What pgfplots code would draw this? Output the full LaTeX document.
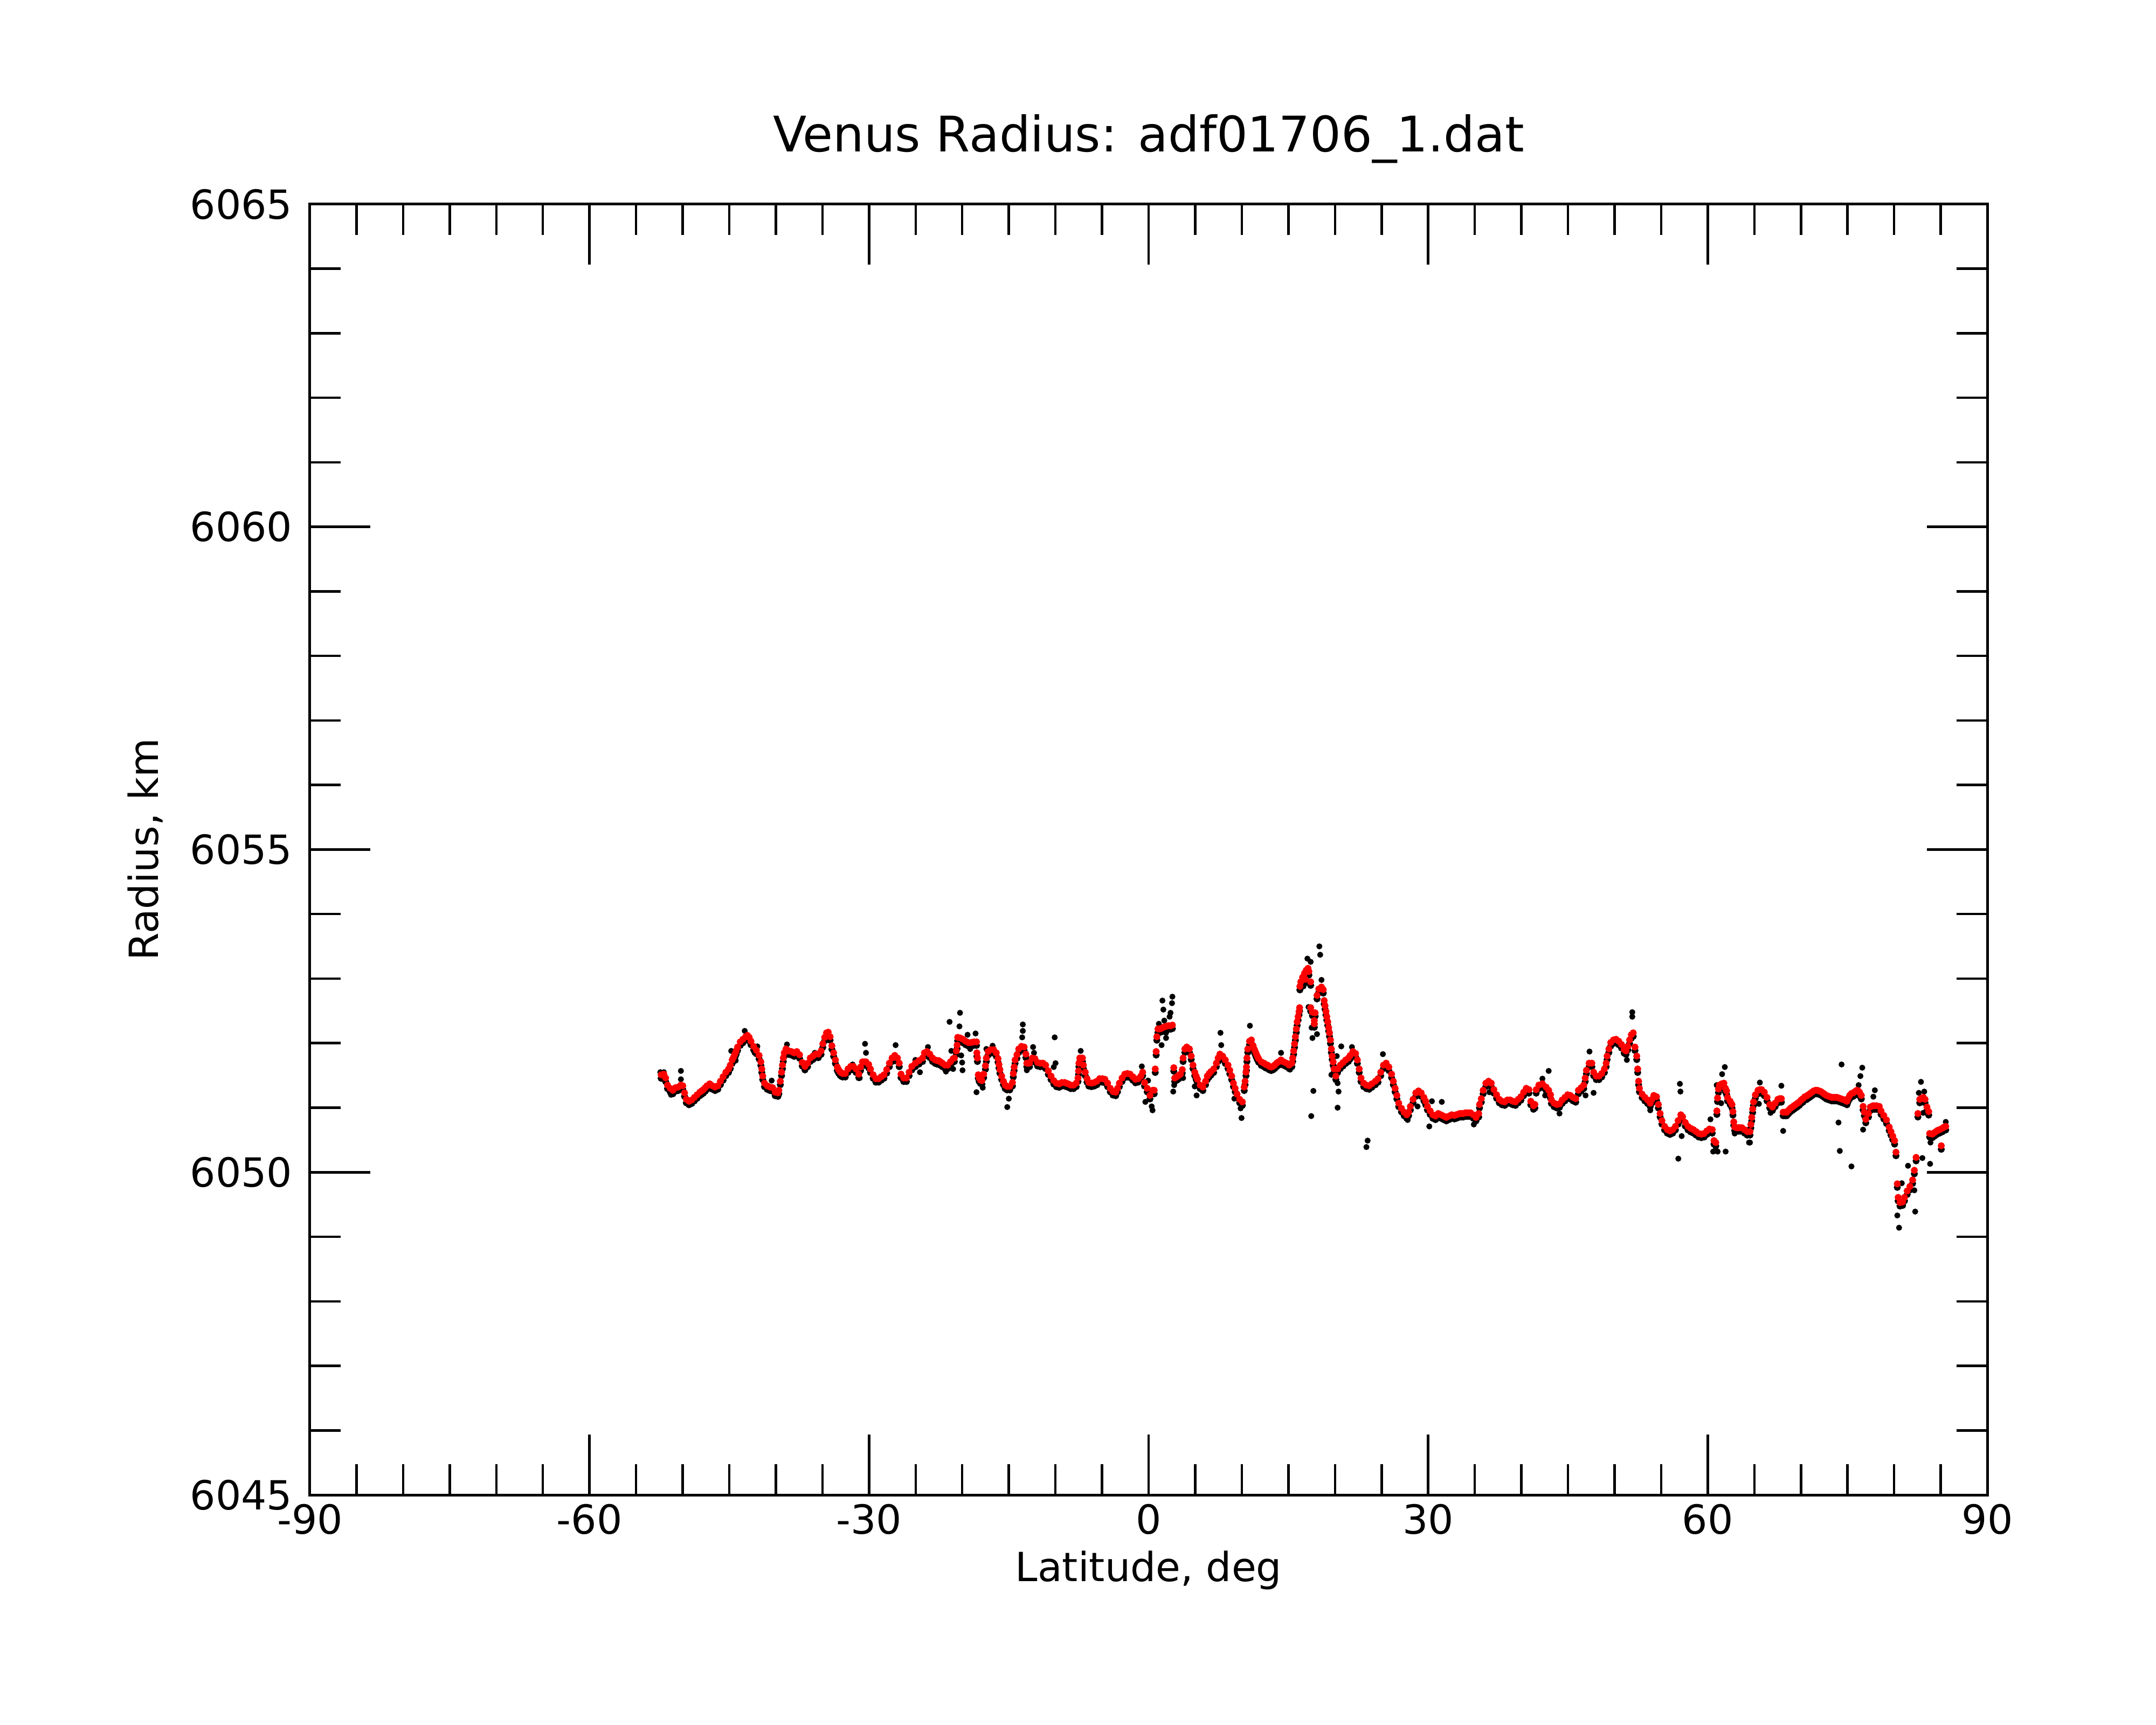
\documentclass[border=0pt]{standalone}
\usepackage{pgfplots}
\pgfplotsset{compat=1.18}
\usepackage{pgfplotstable}
\usepackage{fontspec}
\setmainfont{DejaVu Sans}

\pgfplotstableread{
lat r
-52.31 6051.51
-52.02 6051.52
-51.83 6051.46
-51.63 6051.35
-51.34 6051.30
-51.05 6051.27
-50.77 6051.31
-50.48 6051.32
-50.19 6051.35
-49.99 6051.34
-49.80 6051.23
-49.61 6051.13
-49.32 6051.10
-49.03 6051.12
-48.74 6051.16
-48.45 6051.20
-48.16 6051.24
-47.97 6051.26
-47.78 6051.28
-47.58 6051.31
-47.39 6051.34
-47.10 6051.37
-46.81 6051.34
-46.52 6051.32
-46.23 6051.34
-45.95 6051.41
-45.66 6051.48
-45.37 6051.55
-45.08 6051.60
-44.89 6051.66
-44.69 6051.74
-44.55 6051.78
-44.40 6051.83
-44.26 6051.88
-44.11 6051.94
-43.82 6052.02
-43.54 6052.06
-43.25 6052.10
-43.05 6052.12
-42.86 6052.09
-42.67 6052.03
-42.38 6051.95
-42.09 6051.89
-41.80 6051.81
-41.61 6051.71
-41.51 6051.60
-41.41 6051.49
-41.22 6051.38
-40.93 6051.34
-40.64 6051.32
-40.35 6051.31
-40.07 6051.24
-39.78 6051.23
-39.68 6051.27
-39.52 6051.41
-39.39 6051.55
-39.29 6051.66
-39.20 6051.77
-39.10 6051.85
-38.91 6051.91
-38.76 6051.89
-38.62 6051.88
-38.33 6051.87
-38.04 6051.85
-37.75 6051.87
-37.46 6051.82
-37.17 6051.70
-36.88 6051.64
-36.60 6051.69
-36.31 6051.77
-36.02 6051.80
-35.73 6051.83
-35.44 6051.83
-35.15 6051.88
-34.96 6051.99
-34.76 6052.09
-34.57 6052.16
-34.38 6052.17
-34.18 6052.10
-33.99 6051.96
-33.80 6051.85
-33.61 6051.74
-33.41 6051.63
-33.27 6051.59
-33.12 6051.56
-32.98 6051.54
-32.84 6051.53
-32.55 6051.53
-32.26 6051.60
-31.97 6051.64
-31.68 6051.64
-31.39 6051.60
-31.10 6051.52
-30.91 6051.63
-30.71 6051.71
-30.52 6051.71
-30.33 6051.71
-30.04 6051.67
-29.85 6051.60
-29.56 6051.51
-29.27 6051.45
-28.98 6051.45
-28.69 6051.48
-28.40 6051.51
-28.11 6051.59
-27.82 6051.69
-27.53 6051.77
-27.24 6051.81
-26.95 6051.77
-26.76 6051.69
-26.57 6051.52
-26.28 6051.46
-25.99 6051.46
-25.70 6051.55
-25.41 6051.64
-25.03 6051.69
-24.64 6051.73
-24.26 6051.77
-24.06 6051.85
-23.77 6051.87
-23.48 6051.83
-23.19 6051.77
-22.90 6051.74
-22.71 6051.73
-22.52 6051.73
-22.33 6051.71
-22.13 6051.69
-21.84 6051.66
-21.56 6051.66
-21.27 6051.71
-20.98 6051.76
-20.84 6051.77
-20.63 6051.88
-20.55 6051.97
-20.49 6052.09
-20.21 6052.08
-19.92 6052.06
-19.63 6052.03
-19.34 6052.01
-19.05 6052.01
-18.76 6052.02
-18.47 6052.02
-18.43 6051.85
-18.37 6051.77
-18.28 6051.51
-18.18 6051.46
-18.04 6051.43
-17.89 6051.42
-17.70 6051.52
-17.51 6051.65
-17.41 6051.77
-17.22 6051.87
-16.93 6051.90
-16.64 6051.90
-16.35 6051.85
-16.16 6051.76
-16.06 6051.67
-15.96 6051.59
-15.77 6051.49
-15.58 6051.41
-15.39 6051.35
-15.19 6051.33
-14.90 6051.33
-14.61 6051.39
-14.52 6051.53
-14.43 6051.63
-14.33 6051.74
-14.13 6051.82
-13.94 6051.91
-13.65 6051.95
-13.36 6051.94
-13.17 6051.83
-13.07 6051.69
-12.92 6051.69
-12.78 6051.69
-12.49 6051.77
-12.20 6051.76
-11.92 6051.70
-11.63 6051.69
-11.34 6051.69
-11.05 6051.66
-10.76 6051.57
-10.47 6051.49
-10.18 6051.42
-9.89 6051.38
-9.60 6051.37
-9.31 6051.39
-9.02 6051.39
-8.83 6051.38
-8.64 6051.37
-8.35 6051.35
-8.06 6051.35
-7.77 6051.38
-7.58 6051.46
-7.52 6051.57
-7.48 6051.69
-7.39 6051.77
-7.10 6051.77
-7.00 6051.66
-6.80 6051.55
-6.61 6051.45
-6.42 6051.39
-6.13 6051.38
-5.84 6051.39
-5.55 6051.41
-5.26 6051.45
-4.97 6051.45
-4.69 6051.44
-4.40 6051.38
-4.11 6051.30
-3.82 6051.25
-3.53 6051.24
-3.34 6051.30
-3.14 6051.38
-2.85 6051.46
-2.56 6051.52
-2.28 6051.53
-1.99 6051.52
-1.70 6051.48
-1.41 6051.44
-1.12 6051.45
-0.83 6051.49
-0.64 6051.55
-0.44 6051.39
-0.15 6051.30
0.14 6051.19
0.42 6051.27
0.60 6051.27
0.71 6051.60
0.81 6051.87
0.88 6052.10
1.00 6052.22
1.19 6052.22
1.39 6052.23
1.63 6052.25
1.87 6052.26
2.11 6052.27
2.35 6052.27
2.55 6052.28
2.70 6051.62
2.80 6051.46
3.03 6051.48
3.22 6051.50
3.41 6051.52
3.61 6051.59
3.70 6051.77
3.89 6051.91
4.09 6051.94
4.38 6051.91
4.57 6051.80
4.76 6051.66
4.95 6051.55
5.10 6051.49
5.24 6051.44
5.53 6051.35
5.82 6051.32
6.11 6051.41
6.30 6051.49
6.50 6051.53
6.69 6051.56
6.98 6051.60
7.27 6051.69
7.46 6051.77
7.65 6051.83
7.94 6051.80
8.23 6051.74
8.52 6051.66
8.71 6051.58
8.91 6051.49
9.10 6051.38
9.29 6051.30
9.49 6051.21
9.77 6051.13
10.06 6051.09
10.26 6051.32
10.35 6051.41
10.45 6051.55
10.50 6051.63
10.55 6051.77
10.64 6051.91
10.83 6052.03
11.03 6052.05
11.22 6051.96
11.37 6051.90
11.51 6051.85
11.66 6051.80
11.80 6051.76
12.09 6051.71
12.38 6051.69
12.57 6051.67
12.76 6051.66
12.96 6051.64
13.15 6051.63
13.34 6051.64
13.53 6051.66
13.73 6051.69
13.92 6051.71
14.21 6051.74
14.50 6051.71
14.79 6051.69
15.08 6051.66
15.37 6051.69
15.46 6051.77
15.56 6051.88
15.66 6051.99
15.75 6052.10
15.85 6052.22
15.94 6052.33
16.04 6052.41
16.14 6052.49
16.20 6052.55
16.23 6052.88
16.33 6052.95
16.52 6053.02
16.72 6053.08
16.81 6052.99
16.91 6053.13
17.10 6053.16
17.20 6053.11
17.39 6052.95
17.39 6052.55
17.58 6052.48
17.78 6052.35
17.78 6052.30
17.87 6052.47
18.07 6052.74
18.26 6052.84
18.55 6052.87
18.74 6052.83
18.84 6052.66
18.93 6052.58
19.03 6052.49
19.12 6052.41
19.22 6052.33
19.32 6052.24
19.41 6052.16
19.51 6052.05
19.61 6051.91
19.70 6051.80
19.80 6051.71
19.90 6051.60
20.09 6051.49
20.28 6051.60
20.57 6051.66
20.86 6051.70
21.15 6051.74
21.44 6051.77
21.63 6051.81
21.92 6051.87
22.21 6051.84
22.40 6051.74
22.60 6051.60
22.79 6051.46
23.08 6051.38
23.37 6051.35
23.66 6051.34
23.95 6051.37
24.33 6051.41
24.62 6051.45
24.91 6051.55
25.20 6051.66
25.49 6051.69
25.78 6051.63
26.07 6051.52
26.26 6051.41
26.45 6051.30
26.64 6051.19
26.84 6051.07
27.13 6050.99
27.42 6050.93
27.70 6050.89
27.90 6050.93
28.09 6051.02
28.38 6051.13
28.67 6051.23
28.96 6051.26
29.25 6051.23
29.54 6051.16
29.73 6051.10
29.92 6051.02
30.21 6050.95
30.50 6050.89
30.79 6050.87
31.08 6050.91
31.37 6050.89
31.66 6050.87
31.95 6050.85
32.24 6050.87
32.52 6050.89
32.81 6050.88
33.01 6050.89
33.20 6050.90
33.39 6050.91
33.58 6050.91
33.78 6050.91
33.97 6050.92
34.16 6050.92
34.36 6050.92
34.55 6050.92
34.84 6050.89
35.13 6050.85
35.42 6050.91
35.51 6051.05
35.70 6051.14
35.90 6051.27
36.19 6051.38
36.48 6051.41
36.77 6051.38
37.05 6051.28
37.34 6051.20
37.63 6051.13
37.92 6051.10
38.21 6051.09
38.50 6051.12
38.79 6051.12
39.08 6051.10
39.37 6051.09
39.66 6051.13
39.95 6051.17
40.24 6051.24
40.52 6051.30
40.81 6051.28
41.01 6051.10
41.30 6051.03
41.45 6051.05
41.59 6051.28
41.87 6051.35
42.26 6051.37
42.65 6051.32
42.93 6051.27
43.13 6051.20
43.22 6051.12
43.51 6051.07
43.80 6051.05
44.09 6051.06
44.38 6051.12
44.67 6051.16
44.96 6051.20
45.25 6051.19
45.54 6051.16
45.83 6051.14
46.12 6051.27
46.41 6051.31
46.69 6051.35
46.85 6051.46
46.98 6051.58
47.27 6051.69
47.56 6051.69
47.75 6051.55
48.04 6051.49
48.33 6051.49
48.62 6051.53
48.91 6051.60
49.10 6051.69
49.20 6051.80
49.39 6051.91
49.59 6052.01
49.88 6052.05
50.16 6052.06
50.45 6052.03
50.74 6051.98
51.03 6051.90
51.23 6051.88
51.42 6051.95
51.61 6052.05
51.80 6052.13
52.00 6052.16
52.19 6051.94
52.38 6051.80
52.48 6051.60
52.58 6051.41
52.67 6051.30
52.96 6051.21
53.25 6051.16
53.54 6051.12
53.83 6051.07
54.02 6051.13
54.21 6051.19
54.50 6051.17
54.70 6051.05
54.89 6050.91
55.08 6050.80
55.37 6050.71
55.66 6050.66
55.95 6050.64
56.24 6050.66
56.53 6050.71
56.82 6050.80
57.11 6050.89
57.30 6050.86
57.59 6050.77
57.88 6050.71
58.17 6050.68
58.46 6050.66
58.74 6050.63
59.03 6050.60
59.32 6050.59
59.61 6050.60
59.90 6050.64
60.19 6050.67
60.48 6050.66
60.67 6050.49
60.86 6050.46
60.98 6050.95
61.05 6051.15
61.15 6051.29
61.25 6051.35
61.50 6051.37
61.73 6051.38
61.90 6051.30
62.02 6051.26
62.12 6051.16
62.41 6051.10
62.60 6051.05
62.70 6050.94
62.79 6050.78
62.89 6050.70
63.08 6050.69
63.27 6050.69
63.46 6050.69
63.66 6050.69
63.95 6050.66
64.24 6050.63
64.53 6050.63
64.62 6050.74
64.72 6050.85
64.82 6050.98
64.91 6051.09
65.11 6051.20
65.39 6051.27
65.58 6051.28
65.78 6051.28
66.07 6051.24
66.36 6051.16
66.65 6051.05
66.94 6051.01
67.23 6051.07
67.52 6051.13
67.71 6051.14
67.90 6051.14
68.09 6050.93
68.29 6050.93
68.48 6050.93
68.67 6050.96
68.86 6050.99
69.06 6051.01
69.25 6051.03
69.44 6051.05
69.64 6051.07
69.83 6051.09
70.02 6051.12
70.21 6051.14
70.41 6051.17
70.60 6051.18
70.79 6051.20
70.99 6051.22
71.18 6051.24
71.37 6051.26
71.56 6051.27
71.76 6051.27
71.95 6051.26
72.14 6051.25
72.34 6051.23
72.53 6051.21
72.72 6051.19
72.92 6051.18
73.11 6051.17
73.30 6051.16
73.49 6051.16
73.69 6051.16
73.88 6051.16
74.07 6051.15
74.26 6051.14
74.46 6051.13
74.65 6051.12
74.84 6051.11
74.94 6051.10
75.04 6051.14
75.23 6051.19
75.42 6051.22
75.61 6051.23
75.80 6051.25
76.00 6051.27
76.15 6051.26
76.29 6051.24
76.48 6051.19
76.67 6051.02
76.81 6050.93
76.96 6050.82
77.25 6050.91
77.44 6051.01
77.73 6051.03
77.92 6051.03
78.12 6051.03
78.41 6051.02
78.60 6050.95
78.89 6050.88
79.18 6050.81
79.47 6050.70
79.66 6050.63
79.85 6050.56
80.05 6050.49
80.20 6050.31
80.34 6049.82
80.43 6049.61
80.63 6049.53
80.91 6049.54
81.11 6049.61
81.40 6049.71
81.69 6049.78
81.98 6049.88
82.17 6050.03
82.36 6050.23
82.55 6050.91
82.75 6051.13
82.94 6051.15
83.13 6051.16
83.32 6051.13
83.52 6051.01
83.71 6050.94
83.81 6050.60
84.10 6050.59
84.29 6050.61
84.48 6050.63
84.68 6050.65
84.87 6050.66
85.06 6050.41
85.16 6050.68
85.35 6050.70
85.54 6050.71
}\reddata

\pgfplotstableread{
lat r
-52.40 6051.55
-52.02 6051.55
-51.25 6051.20
-50.19 6051.57
-50.19 6051.44
-49.32 6051.05
-44.79 6051.88
-44.31 6051.73
-43.34 6052.19
-42.28 6051.85
-41.99 6051.95
-40.45 6051.42
-39.87 6051.20
-38.81 6051.98
-36.98 6051.62
-35.82 6051.85
-32.74 6051.50
-31.77 6051.67
-31.00 6051.46
-30.43 6051.99
-30.33 6051.85
-29.07 6051.41
-27.15 6051.97
-26.09 6051.41
-25.03 6051.74
-24.54 6051.55
-23.68 6051.94
-22.90 6051.69
-21.75 6051.56
-21.36 6052.33
-21.17 6051.88
-20.98 6051.60
-20.30 6052.26
-20.24 6052.47
-20.11 6051.81
-20.01 6051.70
-19.97 6051.58
-19.43 6052.13
-19.15 6051.91
-18.57 6052.15
-18.47 6051.24
-17.80 6051.31
-17.41 6051.91
-16.74 6051.96
-15.17 6051.01
-15.00 6051.14
-13.57 6052.09
-13.50 6052.19
-13.50 6052.29
-13.07 6051.58
-12.40 6051.94
-12.30 6051.85
-10.18 6051.63
-10.08 6052.09
-9.99 6051.69
-7.29 6051.88
-0.73 6051.64
-0.35 6051.09
-0.06 6051.42
0.33 6051.02
0.42 6050.96
1.10 6052.30
1.39 6051.97
1.48 6052.66
1.58 6052.52
1.68 6052.35
1.87 6052.16
1.87 6052.08
2.25 6052.41
2.35 6052.47
2.51 6052.62
2.55 6052.72
2.64 6051.25
2.74 6051.35
3.70 6051.46
4.95 6051.33
5.15 6051.19
7.71 6052.16
7.79 6051.97
9.20 6051.14
9.87 6050.99
9.97 6050.84
10.87 6052.27
14.21 6051.85
15.17 6051.59
16.62 6052.88
17.04 6053.31
17.16 6052.56
17.39 6053.26
17.45 6050.87
17.49 6052.24
17.58 6052.08
17.68 6051.26
18.07 6052.14
18.32 6053.50
18.41 6053.37
18.55 6052.98
19.61 6051.51
20.19 6051.80
20.28 6051.00
20.28 6051.38
20.38 6051.25
20.67 6051.95
21.82 6051.94
23.37 6050.39
23.50 6050.49
25.14 6051.83
27.80 6050.81
28.86 6051.02
30.12 6050.71
30.40 6051.10
31.46 6051.09
34.90 6050.74
36.57 6051.24
42.26 6051.45
42.55 6051.19
42.93 6051.57
44.09 6050.91
46.89 6051.19
47.31 6051.87
47.75 6051.23
51.32 6051.74
51.90 6052.48
51.90 6052.41
53.83 6050.96
56.84 6050.21
57.01 6051.37
57.07 6051.25
57.20 6050.56
60.29 6050.82
60.58 6050.32
60.96 6051.35
61.06 6050.32
61.44 6051.07
61.54 6051.52
61.83 6051.63
61.92 6050.32
62.89 6050.60
64.43 6050.46
64.53 6050.46
65.49 6051.06
65.59 6051.39
66.74 6050.92
67.90 6051.34
68.09 6050.64
74.03 6050.77
74.17 6050.33
74.36 6051.67
75.42 6050.09
76.19 6051.35
76.38 6051.49
76.58 6051.62
76.67 6050.66
77.77 6051.17
77.93 6051.27
80.34 6049.33
80.53 6049.14
80.82 6049.83
81.49 6050.10
82.17 6049.72
82.26 6049.39
82.65 6051.23
82.88 6051.40
83.03 6050.22
83.13 6050.92
83.23 6051.25
83.86 6050.13
83.90 6050.46
85.54 6050.78
}\blackdata

\begin{document}
\begin{tikzpicture}
\begin{axis}[
  at={(0pt,0pt)}, anchor=south west,
  scale only axis, width=622.4pt, height=479pt,
  xmin=-90, xmax=90, ymin=6045, ymax=6065,
  xtick={-90,-60,...,90}, ytick={6045,6050,...,6065},
  minor x tick num=5, minor y tick num=4,
  major tick length=22.4pt, minor tick length=11.5pt,
  tick align=inside,
  every tick/.style={black, line width=0.9pt},
  axis line style={line width=1pt},
  /pgf/number format/assume math mode=true,
  /pgf/number format/1000 sep={},
  ticklabel style={font=\fontsize{14.9}{17}\selectfont},
  yticklabel style={xshift=-3pt},
  title={Venus Radius: adf01706\_1.dat},
  every axis title/.style={font=\fontsize{18.2}{22}\selectfont, at={(axis description cs:0.5,1.0405)}, anchor=base},
  xlabel={Latitude, deg},
  ylabel={Radius, km},
  xlabel style={font=\fontsize{14.9}{17}\selectfont, at={(axis description cs:0.5,-0.067)}, anchor=base},
  ylabel style={font=\fontsize{14.9}{17}\selectfont, at={(axis description cs:-0.0905,0.5)}, anchor=base, rotate=0},
]
\addplot[only marks, mark=*, mark size=1.1pt, black, mark options={draw=none, fill=black}, yshift=-1.3pt] table[x=lat, y=r] {\reddata};
\addplot[only marks, mark=*, mark size=0.9pt, black, mark options={draw=none, fill=black}] table[x=lat, y=r] {\blackdata};
\addplot[only marks, mark=*, mark size=1.1pt, red, mark options={draw=none, fill=red}] table[x=lat, y=r] {\reddata};
\end{axis}
\pgfresetboundingbox
\path[use as bounding box] (-115pt,-85.2pt) rectangle (685pt,554.8pt);
\end{tikzpicture}
\end{document}
